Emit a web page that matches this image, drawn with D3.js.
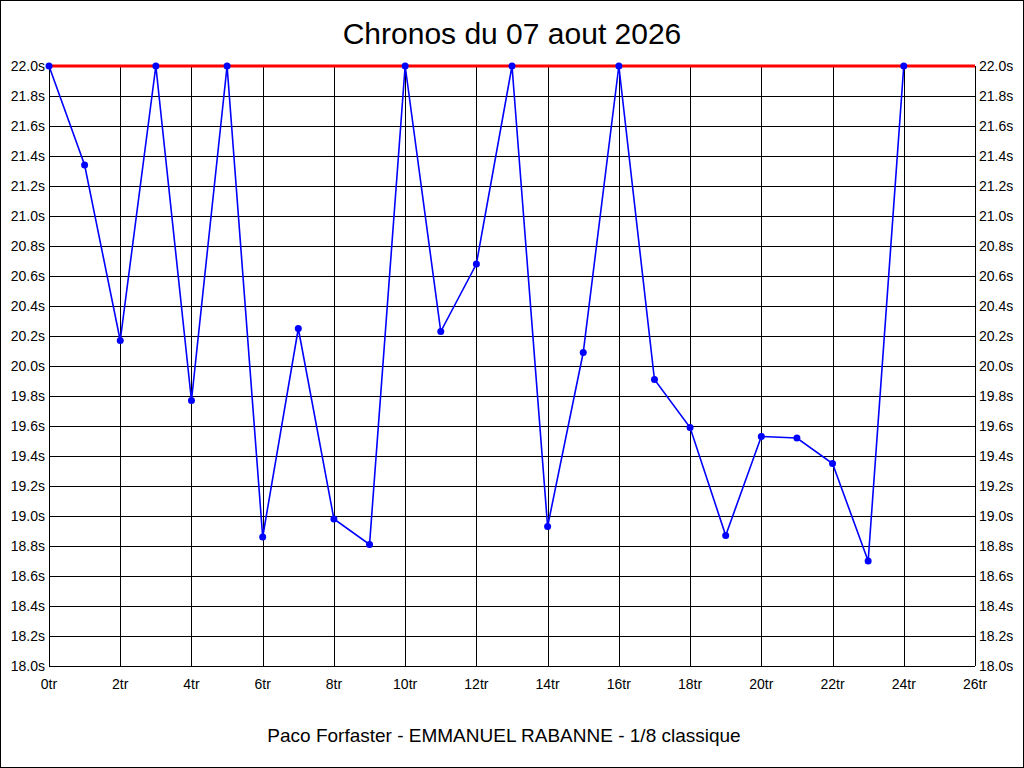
<!DOCTYPE html>
<html>
<head>
<meta charset="utf-8">
<script src="https://cdn.jsdelivr.net/npm/d3@7"></script>
<style>
  html, body { margin: 0; padding: 0; background: #fff; }
  svg { display: block; font-family: "Liberation Sans", Arial, sans-serif; }
</style>
</head>
<body>
<div id="chart"></div>
<script>
// tours (tr) et chronos (s)
const tours = d3.range(0, 25);
const chronos = [
    22.00, 21.34, 20.17, 22.00, 19.77, 22.00, 18.86, 20.25, 18.98, 18.81,
    22.00, 20.23, 20.68, 22.00, 18.93, 20.09, 22.00, 19.91, 19.59, 18.87,
    19.53, 19.52, 19.35, 18.70, 22.00
];
const limite = 22.0;
const xTicks = d3.range(0, 27, 2);
const yTicks = d3.range(18.0, 22.01, 0.2);

const titre = "Chronos du 07 aout 2026";
const sousTitre = "Paco Forfaster - EMMANUEL RABANNE - 1/8 classique";

const width = 1024, height = 768;
const margin = { top: 66, right: 49, bottom: 102, left: 49 };

const svg = d3.select("#chart")
    .append("svg")
    .attr("width", width)
    .attr("height", height);

// cadre extérieur
svg.append("rect")
    .attr("x", 0.5).attr("y", 0.5)
    .attr("width", width - 1).attr("height", height - 1)
    .attr("fill", "#fff")
    .attr("stroke", "#000");

const x = d3.scaleLinear()
    .domain([0, 26])
    .range([margin.left, width - margin.right]);

const y = d3.scaleLinear()
    .domain([18, 22])
    .range([height - margin.bottom, margin.top]);

// grille verticale
svg.append("g")
    .selectAll("line")
    .data(xTicks)
    .enter()
    .append("line")
    .attr("x1", d => Math.round(x(d)) + 0.5)
    .attr("x2", d => Math.round(x(d)) + 0.5)
    .attr("y1", y(18))
    .attr("y2", y(22))
    .attr("stroke", "#000")
    .attr("shape-rendering", "crispEdges");

// grille horizontale
svg.append("g")
    .selectAll("line")
    .data(yTicks)
    .enter()
    .append("line")
    .attr("x1", x(0))
    .attr("x2", x(26))
    .attr("y1", d => Math.round(y(d)) + 0.5)
    .attr("y2", d => Math.round(y(d)) + 0.5)
    .attr("stroke", "#000")
    .attr("shape-rendering", "crispEdges");

// étiquettes axe Y gauche et droite
svg.append("g")
    .selectAll("text")
    .data(yTicks)
    .enter()
    .append("text")
    .attr("x", x(0) - 4)
    .attr("y", d => y(d) + 5)
    .attr("text-anchor", "end")
    .attr("font-size", "14px")
    .text(d => d.toFixed(1) + "s");

svg.append("g")
    .selectAll("text")
    .data(yTicks)
    .enter()
    .append("text")
    .attr("x", x(26) + 4)
    .attr("y", d => y(d) + 5)
    .attr("text-anchor", "start")
    .attr("font-size", "14px")
    .text(d => d.toFixed(1) + "s");

// étiquettes axe X
svg.append("g")
    .selectAll("text")
    .data(xTicks)
    .enter()
    .append("text")
    .attr("x", d => x(d))
    .attr("y", y(18) + 23)
    .attr("text-anchor", "middle")
    .attr("font-size", "14px")
    .text(d => d + "tr");

// ligne limite rouge
svg.append("line")
    .attr("x1", x(0))
    .attr("x2", x(26))
    .attr("y1", y(limite))
    .attr("y2", y(limite))
    .attr("stroke", "#ff0000")
    .attr("stroke-width", 3);

// courbe des chronos
const points = tours.map((t, i) => ({ t: t, v: chronos[i] }));

svg.append("path")
    .datum(points)
    .attr("fill", "none")
    .attr("stroke", "#0000ff")
    .attr("stroke-width", 1.6)
    .attr("d", d3.line().x(d => x(d.t)).y(d => y(d.v)));

svg.append("g")
    .selectAll("circle")
    .data(points)
    .enter()
    .append("circle")
    .attr("cx", d => x(d.t))
    .attr("cy", d => y(d.v))
    .attr("r", 3.5)
    .attr("fill", "#0000ff");

// titres
svg.append("text")
    .attr("x", width / 2)
    .attr("y", 44)
    .attr("text-anchor", "middle")
    .attr("font-size", "30px")
    .text(titre);

svg.append("text")
    .attr("x", 504)
    .attr("y", 742)
    .attr("text-anchor", "middle")
    .attr("font-size", "19px")
    .text(sousTitre);
</script>
</body>
</html>
